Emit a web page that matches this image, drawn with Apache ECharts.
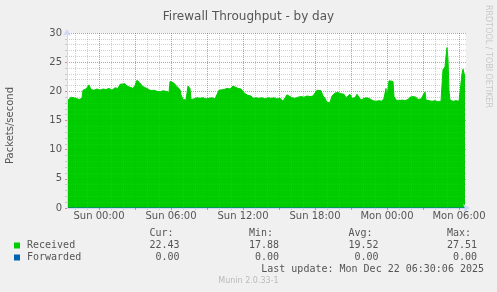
<!DOCTYPE html>
<html><head><meta charset="utf-8">
<script src="https://cdn.jsdelivr.net/npm/echarts@6/dist/echarts.min.js"></script>
<style>html,body{margin:0;padding:0;background:#F0F0F0;}#c{width:497px;height:292px;}</style>
</head><body><div id="c"></div>
<script>
// ---- data (minutes relative to Sun 00:00) ----
const chartTitle = 'Firewall Throughput - by day';
const yAxisName = 'Packets/second';
const watermark = 'RRDTOOL / TOBI OETIKER';
const footer = 'Munin 2.0.33-1';
const lastUpdate = 'Last update: Mon Dec 22 06:30:06 2025';

const xTickMinutes = [0, 360, 720, 1080, 1440, 1800];
const xTickLabels = ['Sun 00:00', 'Sun 06:00', 'Sun 12:00', 'Sun 18:00', 'Mon 00:00', 'Mon 06:00'];

const receivedMinutes = [-160,-150,-140,-130,-115,-100,-85,-80,-65,-50,-40,-25,-10,5,20,35,50,65,80,95,105,115,130,140,155,170,180,190,200,210,220,230,245,260,275,290,305,320,335,350,355,365,375,390,405,410,420,435,445,455,460,475,490,505,520,535,550,565,580,590,600,610,625,640,655,670,680,695,710,720,730,745,760,770,785,800,815,830,845,860,875,890,905,920,930,940,950,965,980,995,1010,1025,1040,1055,1070,1080,1090,1100,1110,1120,1130,1140,1155,1165,1180,1195,1210,1225,1235,1245,1255,1265,1280,1290,1300,1310,1325,1340,1355,1370,1385,1400,1415,1425,1435,1440,1450,1460,1470,1475,1485,1500,1515,1530,1545,1555,1570,1585,1595,1610,1620,1630,1635,1650,1665,1680,1695,1710,1720,1730,1735,1740,1745,1750,1755,1770,1785,1800,1810,1815,1820,1825,1830];
const receivedValues = [18.3,18.5,19.0,18.7,18.8,18.6,18.8,20.2,20.4,21.1,20.3,20.2,20.4,20.2,20.4,20.3,20.5,20.2,20.6,20.5,21.2,21.5,21.3,20.9,20.7,20.5,21.0,21.9,22.0,21.2,20.8,20.5,20.4,20.1,20.2,20.0,19.9,20.1,20.0,19.8,21.7,21.9,21.4,20.8,20.3,19.4,18.6,18.5,20.9,20.5,18.6,18.7,18.9,18.8,18.9,18.7,18.8,18.9,18.7,18.8,20.2,20.4,20.3,20.5,20.4,20.9,20.6,20.5,20.4,20.1,19.6,19.3,19.2,18.8,18.9,18.8,18.9,18.7,18.9,18.8,18.9,18.7,18.8,18.3,18.1,19.4,19.1,18.9,18.8,19.0,19.1,19.0,19.2,19.1,19.2,19.4,20.2,20.4,20.1,19.2,18.8,18.1,18.1,19.2,19.7,19.8,19.6,19.5,18.9,18.8,19.5,18.8,18.9,19.5,19.4,18.5,18.8,18.9,18.7,18.4,18.3,18.4,18.3,18.8,20.5,18.8,21.8,22.0,21.7,19.1,18.5,18.4,18.5,18.4,18.6,19.0,19.1,19.0,18.6,18.7,18.8,19.9,18.5,18.4,18.3,18.4,18.2,18.3,23.7,24.2,26.0,27.5,25.5,20.0,18.5,18.3,18.4,18.3,18.5,23.0,23.8,23.5,22.4];

const forwardedMinutes = [-160, 1830];
const forwardedValues = [0.00, 0.00];

const seriesNames = ['Received', 'Forwarded'];
const seriesColors = ['#00CC00', '#0066B3'];
const statHeaders = ['Cur:', 'Min:', 'Avg:', 'Max:'];
const receivedStats = [22.43, 17.88, 19.52, 27.51];
const forwardedStats = [0.00, 0.00, 0.00, 0.00];

// time slots of the x axis (5-minute RRD steps spanning the plot)
const slotStart = -160, slotEnd = 1835, slotStep = 5;
const slots = [];
for (let m = slotStart; m <= slotEnd; m += slotStep) slots.push(String(m));
const hourSlots = slots.map(s => s + 'h');   // separate category list for the hourly grid axis

// ---- layout ----
const FONT = 'DejaVu Sans';
const MONO = 'DejaVu Sans Mono';
const TXT = '#555555';
const AXIS = '#CFD6F8';
const MGRID = 'rgba(235,60,60,0.6)';
const GRID = 'rgba(140,140,140,0.4)';
const statRight = [179.5, 279, 378.5, 477];
const statHeaderY = 233.5, statRowY = [245.5, 257.5];

const toPairs = (xs, ys) => xs.map((m, i) => [String(m), ys[i]]);
const isMajor = i => Number(slots[i]) % 180 === 0;
const isMinor = i => Number(slots[i]) % 60 === 0 && !isMajor(i);
const isLabel = i => xTickMinutes.indexOf(Number(slots[i])) >= 0;

const chart = echarts.init(document.getElementById('c'), null, {renderer: 'canvas'});

const graphics = [
  {type: 'text', x: 10.5, y: 125.5, rotation: Math.PI / 2,
   style: {text: yAxisName, font: '10px "' + FONT + '"', fill: TXT, textAlign: 'center', textVerticalAlign: 'middle'}},
  {type: 'text', x: 488.5, y: 5, rotation: -Math.PI / 2,
   style: {text: watermark, font: '8px "' + FONT + '"', fill: '#C8C8C8', textAlign: 'left', textVerticalAlign: 'middle'}},
  {type: 'text', x: 248.5, y: 281, style: {text: footer, font: '8px "' + FONT + '"', fill: '#BBBBBB', textAlign: 'center', textVerticalAlign: 'middle'}},
  {type: 'text', x: 484, y: 269.5, style: {text: lastUpdate, font: '10px "' + MONO + '"', fill: TXT, textAlign: 'right', textVerticalAlign: 'middle'}}
];
statHeaders.forEach((h, i) => {
  graphics.push({type: 'text', x: statRight[i] - 30, y: statHeaderY,
    style: {text: h, font: '10px "' + MONO + '"', fill: TXT, textAlign: 'left', textVerticalAlign: 'middle'}});
});
[receivedStats, forwardedStats].forEach((row, r) => {
  row.forEach((v, i) => {
    graphics.push({type: 'text', x: statRight[i], y: statRowY[r],
      style: {text: v.toFixed(2), font: '10px "' + MONO + '"', fill: TXT, textAlign: 'right', textVerticalAlign: 'middle'}});
  });
});

const option = {
  backgroundColor: '#F0F0F0',
  animation: false,
  title: {text: chartTitle, left: 'center', top: 6,
    textStyle: {fontFamily: FONT, fontSize: 12, fontWeight: 'normal', color: TXT}},
  legend: {data: seriesNames, orient: 'vertical', left: 14, top: 240.5, padding: 0, itemGap: 2,
    icon: 'rect', itemWidth: 6, itemHeight: 6, selectedMode: false,
    textStyle: {fontFamily: MONO, fontSize: 10, color: TXT, lineHeight: 10, padding: [0, 0, 0, 2]}},
  grid: {left: 67, right: 31, top: 33, bottom: 84, containLabel: false, show: true, backgroundColor: '#FFFFFF', borderWidth: 0},
  xAxis: [
    {type: 'category', data: slots, boundaryGap: false, z: 5,
     axisLine: {show: true, onZero: false, lineStyle: {color: AXIS, width: 1}, symbol: ['none', 'arrow'], symbolSize: [6, 7], symbolOffset: [0, 4]},
     axisTick: {show: true, length: 2, interval: isMajor, lineStyle: {color: MGRID}},
     axisLabel: {show: true, interval: isLabel, fontFamily: FONT, fontSize: 10, color: TXT, margin: 3,
       formatter: v => { const k = xTickMinutes.indexOf(Number(v)); return k >= 0 ? xTickLabels[k] : ''; }},
     splitLine: {show: true, interval: isMajor, lineStyle: {color: MGRID, type: [1, 1], width: 1}}},
    {type: 'category', data: hourSlots, boundaryGap: false, z: 4, position: 'bottom',
     axisLine: {show: false, onZero: false}, axisLabel: {show: false},
     axisTick: {show: true, length: 2, interval: isMinor, lineStyle: {color: GRID}},
     splitLine: {show: true, interval: isMinor, lineStyle: {color: GRID, type: [1, 1], width: 1}}}
  ],
  yAxis: {type: 'value', min: 0, max: 30, interval: 5, z: 5,
    axisLine: {show: true, onZero: false, lineStyle: {color: AXIS, width: 1}, symbol: ['none', 'arrow'], symbolSize: [6, 7], symbolOffset: [0, 4]},
    axisTick: {show: true, length: 2, lineStyle: {color: MGRID}},
    minorTick: {show: true, splitNumber: 5, length: 2, lineStyle: {color: GRID}},
    axisLabel: {fontFamily: FONT, fontSize: 10, color: TXT, margin: 5},
    splitLine: {show: true, showMinLine: false, lineStyle: {color: MGRID, type: [1, 1], width: 1}},
    minorSplitLine: {show: true, lineStyle: {color: GRID, type: [1, 1], width: 1}}},
  series: [
    {name: seriesNames[0], type: 'line', xAxisIndex: 0, data: toPairs(receivedMinutes, receivedValues),
     showSymbol: false, symbol: 'none', color: seriesColors[0], z: 2,
     lineStyle: {color: seriesColors[0], width: 1}, areaStyle: {color: seriesColors[0], opacity: 1}},
    {name: seriesNames[1], type: 'line', xAxisIndex: 0, data: toPairs(forwardedMinutes, forwardedValues),
     showSymbol: false, symbol: 'none', color: seriesColors[1], z: 2,
     lineStyle: {color: seriesColors[1], width: 1}}
  ],
  graphic: graphics
};
chart.setOption(option);
</script>
</body></html>
